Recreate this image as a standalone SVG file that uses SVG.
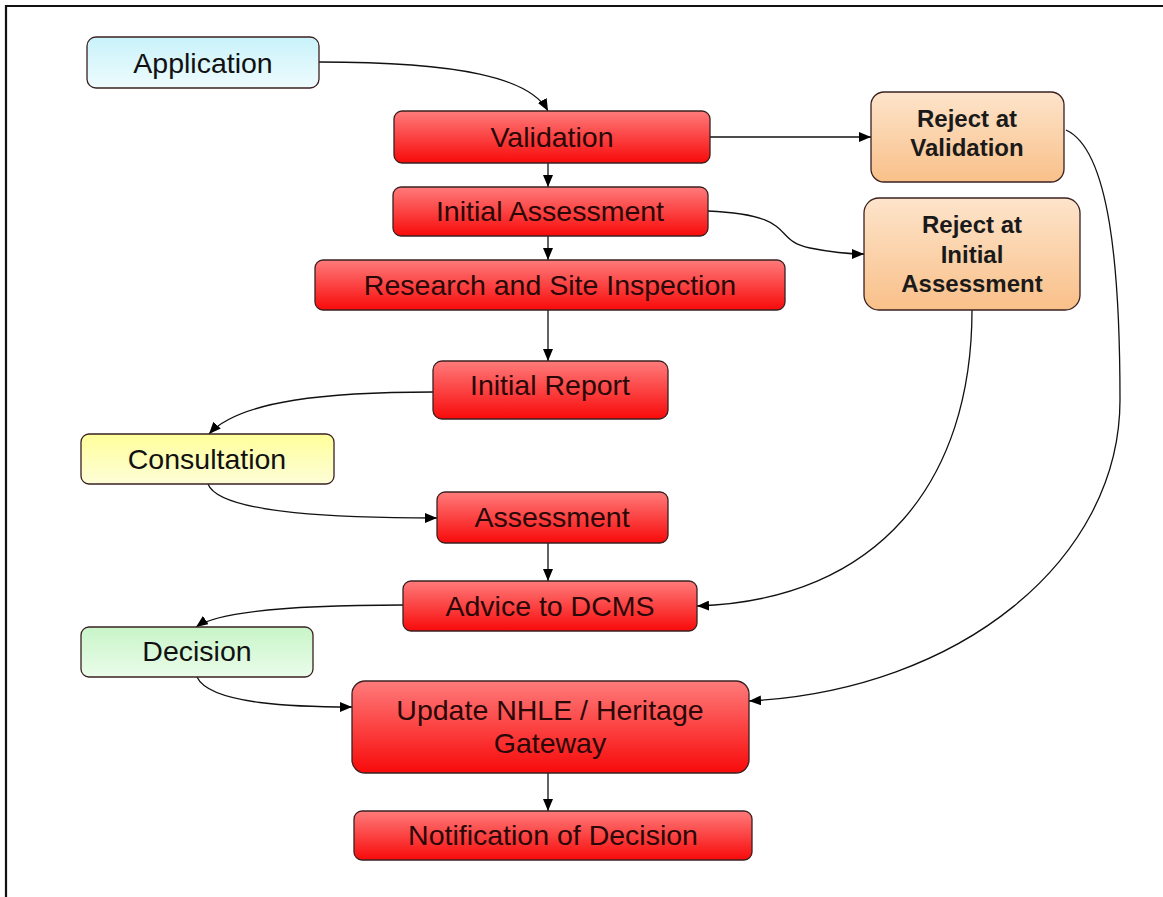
<svg xmlns="http://www.w3.org/2000/svg" width="1163" height="897" viewBox="0 0 1163 897">
<defs>
<linearGradient id="gRed" x1="0" y1="0" x2="0" y2="1"><stop offset="0" stop-color="#ff7b7b"/><stop offset="1" stop-color="#f80a0a"/></linearGradient>
<linearGradient id="gOrange" x1="0" y1="0" x2="0" y2="1"><stop offset="0" stop-color="#fde4cb"/><stop offset="1" stop-color="#f9c089"/></linearGradient>
<linearGradient id="gCyan" x1="0" y1="0" x2="0" y2="1"><stop offset="0" stop-color="#c9f2fa"/><stop offset="1" stop-color="#eefcfe"/></linearGradient>
<linearGradient id="gYellow" x1="0" y1="0" x2="0" y2="1"><stop offset="0" stop-color="#ffff9a"/><stop offset="1" stop-color="#fdfdd8"/></linearGradient>
<linearGradient id="gGreen" x1="0" y1="0" x2="0" y2="1"><stop offset="0" stop-color="#c8f5c8"/><stop offset="1" stop-color="#eafcea"/></linearGradient>
<marker id="arr" viewBox="0 0 12 10" refX="12" refY="5" markerWidth="12" markerHeight="10" markerUnits="userSpaceOnUse" orient="auto"><path d="M0,0 L12,5 L0,10 z" fill="#000"/></marker>
</defs>
<style>
.n{stroke:#3a2020;stroke-width:1.3}
.red{fill:url(#gRed)}
.org{fill:url(#gOrange)}
.t{font-family:"Liberation Sans",Arial,sans-serif;font-size:28.5px;text-anchor:middle;fill:#2a0808}
.tb{font-family:"Liberation Sans",Arial,sans-serif;font-size:24px;font-weight:bold;text-anchor:middle;fill:#1a1a1a}
.tk{fill:#111}
.c{fill:none;stroke:#111;stroke-width:1.3;marker-end:url(#arr)}
</style>
<rect x="0" y="0" width="1163" height="897" fill="#fff"/>
<path d="M6,897 V6 H1163" fill="none" stroke="#111" stroke-width="2.2"/>

<g id="connectors">
<path class="c" d="M319,62 C460,62 530,78 548,111"/>
<path class="c" d="M548,163 V187"/>
<path class="c" d="M548,236 V260"/>
<path class="c" d="M548,310 V361"/>
<path class="c" d="M710,137 H871"/>
<path class="c" d="M708,211 C800,215 770,240 810,248 C830,252 845,254 864,254"/>
<path class="c" d="M433,392 C330,392 240,400 209,434"/>
<path class="c" d="M208,484 C220,515 350,518 437,518"/>
<path class="c" d="M548,543 V581"/>
<path class="c" d="M403,605 C300,605 220,610 196,627"/>
<path class="c" d="M197,677 C210,705 300,707 352,707"/>
<path class="c" d="M972,310 C972,480 880,600 697,606"/>
<path class="c" d="M1066,130 C1110,150 1120,270 1120,400 C1120,560 960,690 749,701"/>
<path class="c" d="M548,773 V811"/>
</g>

<g id="application"><rect class="n" x="87" y="37" width="232" height="51" rx="9" fill="url(#gCyan)"/><text class="t tk" x="203" y="73">Application</text></g>
<g id="validation"><rect class="n red" x="394" y="111" width="316" height="52" rx="8"/><text class="t" x="552" y="147">Validation</text></g>
<g id="initial-assessment"><rect class="n red" x="393" y="187" width="315" height="49" rx="8"/><text class="t" x="550" y="221">Initial Assessment</text></g>
<g id="research"><rect class="n red" x="315" y="260" width="470" height="50" rx="8"/><text class="t" x="550" y="295">Research and Site Inspection</text></g>
<g id="initial-report"><rect class="n red" x="433" y="361" width="235" height="58" rx="9"/><text class="t" x="550" y="395">Initial Report</text></g>
<g id="consultation"><rect class="n" x="81" y="434" width="253" height="50" rx="8" fill="url(#gYellow)"/><text class="t tk" x="207" y="469">Consultation</text></g>
<g id="assessment"><rect class="n red" x="437" y="492" width="231" height="51" rx="8"/><text class="t" x="552" y="527">Assessment</text></g>
<g id="advice"><rect class="n red" x="403" y="581" width="294" height="50" rx="8"/><text class="t" x="550" y="616">Advice to DCMS</text></g>
<g id="decision"><rect class="n" x="81" y="627" width="232" height="50" rx="8" fill="url(#gGreen)"/><text class="t tk" x="197" y="661">Decision</text></g>
<g id="update"><rect class="n red" x="352" y="681" width="397" height="92" rx="13"/><text class="t" x="550" y="720">Update NHLE / Heritage</text><text class="t" x="550" y="753">Gateway</text></g>
<g id="notification"><rect class="n red" x="354" y="811" width="398" height="49" rx="8"/><text class="t" x="553" y="845">Notification of Decision</text></g>
<g id="reject-validation"><rect class="n org" x="871" y="92" width="193" height="90" rx="13"/><text class="tb" x="967" y="127">Reject at</text><text class="tb" x="967" y="156">Validation</text></g>
<g id="reject-initial"><rect class="n org" x="864" y="198" width="216" height="112" rx="15"/><text class="tb" x="972" y="233">Reject at</text><text class="tb" x="972" y="263">Initial</text><text class="tb" x="972" y="292">Assessment</text></g>
</svg>
